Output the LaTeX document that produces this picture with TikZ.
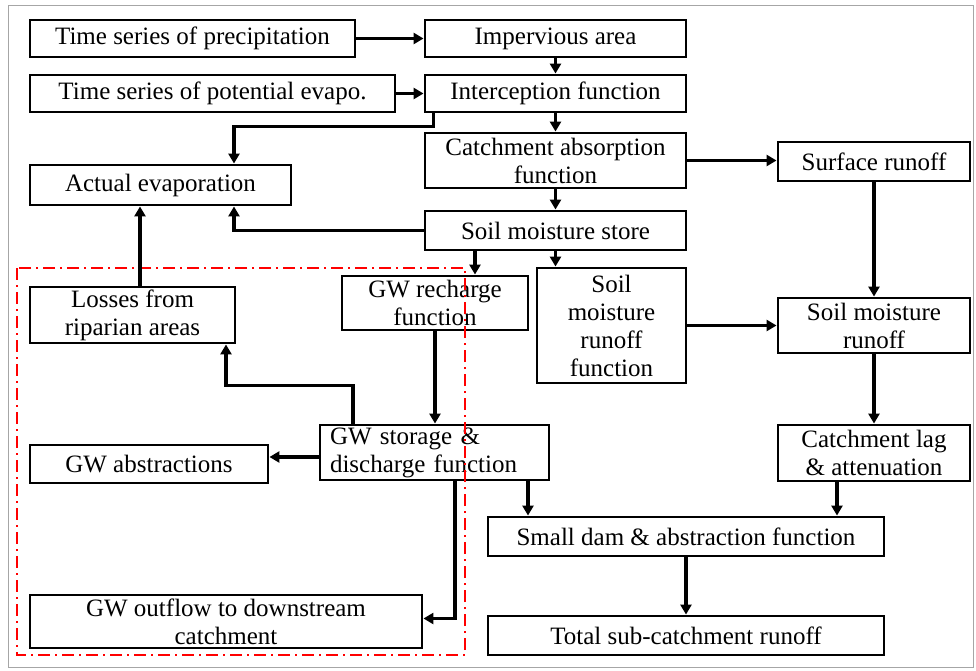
\documentclass[tikz,border=0pt]{standalone}
\usepackage{fontspec}
\setmainfont{Liberation Serif}
\usetikzlibrary{arrows.meta}
\begin{document}
\begin{tikzpicture}[x=1pt,y=-1pt,
  box/.style={draw=black,line width=2.9pt,rectangle,inner sep=0pt,align=center,
    font=\fontsize{25}{28}\selectfont},
  arr/.style={draw=black,line width=3.2pt,-{Triangle[length=10pt,width=11pt]}},
  redbox/.style={draw=red,line width=1.4pt,dash pattern=on 12pt off 5pt on 2pt off 5pt}]
\useasboundingbox (0,0) rectangle (976,670);
\fill[white] (0,0) rectangle (976,670);
\draw[gray!70,line width=1pt] (8,5) rectangle (973,667);
% nodes
\node[box,minimum width=325,minimum height=37] (prec) at (192.5,38.5) {Time series of precipitation};
\node[box,minimum width=261,minimum height=37] (imp) at (555.5,38.5) {Impervious area};
\node[box,minimum width=365,minimum height=37] (pot) at (212.5,93.5) {Time series of potential evapo.};
\node[box,minimum width=261,minimum height=37] (int) at (555.5,93.5) {Interception function};
\node[box,minimum width=261,minimum height=55] (cab) at (555.5,160.5) {Catchment absorption\\function};
\node[box,minimum width=192,minimum height=39] (sur) at (874,161.5) {Surface runoff};
\node[box,minimum width=261,minimum height=40] (act) at (160.5,185) {Actual evaporation};
\node[box,minimum width=261,minimum height=39] (sms) at (555.5,230.5) {Soil moisture store};
\node[box,minimum width=205,minimum height=56] (los) at (132.5,315) {Losses from\\riparian areas};
\node[box,minimum width=186,minimum height=54] (gwr) at (435,303) {GW recharge\\function};
\node[box,minimum width=149,minimum height=115] (smf) at (611.5,325.5) {Soil\\moisture\\runoff\\function};
\node[box,minimum width=192,minimum height=55] (smr) at (874,325.5) {Soil moisture\\runoff};
\node[box,minimum width=229,minimum height=55,text width=209pt,align=left] (gws) at (434.5,452.5) {GW storage \&\\discharge function};
\node[box,minimum width=238,minimum height=38] (gwa) at (149,464) {GW abstractions};
\node[box,minimum width=192,minimum height=56] (lag) at (874,453) {Catchment lag\\\& attenuation};
\node[box,minimum width=396,minimum height=39] (dam) at (686,536.5) {Small dam \& abstraction function};
\node[box,minimum width=392,minimum height=53] (out) at (226,621.5) {GW outflow to downstream\\catchment};
\node[box,minimum width=396,minimum height=39] (tot) at (686,635.5) {Total sub-catchment runoff};
% red group
\draw[redbox] (17,268) rectangle (465,655);
% connectors
\draw[arr] (prec.east) -- (imp.west);
\draw[arr] (imp.south) -- (int.north);
\draw[arr] (pot.east) -- (int.west);
\draw[arr] ([xshift=10pt]int.south west) -- ++(0,13) -| ([xshift=73.5pt]act.north);
\draw[arr] (int.south) -- (cab.north);
\draw[arr] (cab.south) -- (sms.north);
\draw[arr] (cab.east) -- (cab.east -| sur.west);
\draw[arr] (sms.west) -| ([xshift=73.5pt]act.south);
\draw[arr] ([xshift=7.5pt]los.north) -- ([xshift=7.5pt]los.north |- act.south);
\draw[arr] ([xshift=40pt]gwr.north |- sms.south) -- ([xshift=40pt]gwr.north);
\draw[arr] (sms.south) -- (sms.south |- smf.north);
\draw[arr] (gwr.south) -- (gwr.south |- gws.north);
\draw[arr] ([xshift=-81.5pt]gws.north) -- ++(0,-38) -| ([xshift=93.5pt]los.south);
\draw[arr] ([yshift=-4.5pt]gws.west) -- ([yshift=-4.5pt]gws.west -| gwa.east);
\draw[arr] ([xshift=20.5pt]gws.south) |- ([yshift=3pt]out.east);
\draw[arr] ([xshift=93.5pt]gws.south) -- ([xshift=93.5pt]gws.south |- dam.north);
\draw[arr] (smf.east) -- (smr.west);
\draw[arr] (sur.south) -- (smr.north);
\draw[arr] (smr.south) -- (lag.north);
\draw[arr] ([xshift=-37pt]lag.south) -- ([xshift=-37pt]lag.south |- dam.north);
\draw[arr] (dam.south) -- (tot.north);
\end{tikzpicture}
\end{document}
